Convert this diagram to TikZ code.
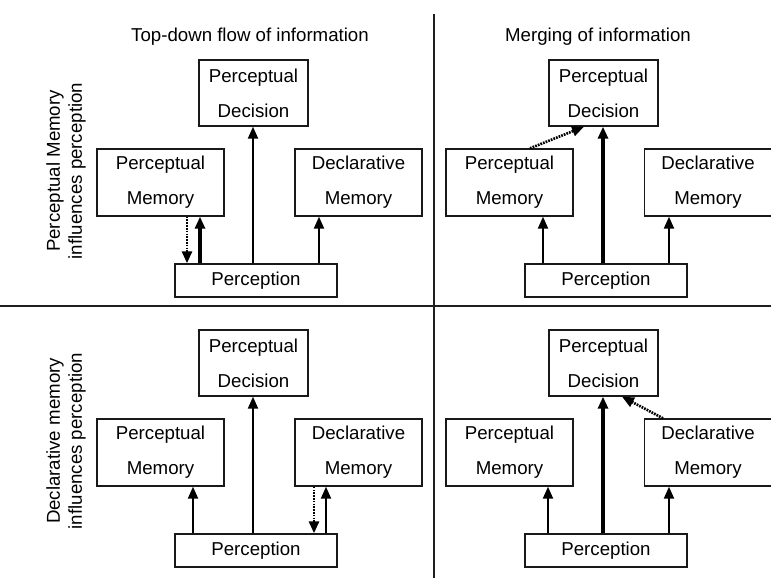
\documentclass[tikz,border=0pt]{standalone}
\usepackage{fontspec}
\setmainfont{Liberation Sans}
\usetikzlibrary{arrows.meta}
\begin{document}
\begin{tikzpicture}[x=0.75pt,y=-0.75pt,
  box/.style={draw=black!90,line width=1.05pt,inner sep=0pt,align=center,font=\fontsize{14}{26}\selectfont},
  pdbox/.style={box,minimum width=81.75pt,minimum height=49.5pt},
  membox/.style={box,minimum width=95.25pt,minimum height=50.25pt},
  perbox/.style={box,minimum width=121.5pt,minimum height=24.75pt},
  tip/.style={-{Triangle[length=9pt,width=7.5pt]}},
  arr/.style={tip,line width=1.6pt},
  tarr/.style={tip,line width=2.3pt},
  darr/.style={tip,line width=2pt,dash pattern=on 1.3pt off 0.8pt},
  divider/.style={draw=black!88,line width=1.5pt},
  title/.style={font=\fontsize{14}{17}\selectfont,inner sep=0pt},
  side/.style={font=\fontsize{14}{16.5}\selectfont,align=center,rotate=90,inner sep=0pt}
]
\useasboundingbox (0,0) rectangle (771,581);

% dividers
\coordinate (vtop) at (434,14);
\coordinate (vbot) at (434,578);
\coordinate (hl) at (0,306);
\coordinate (hr) at (771,306);
\draw[divider] (vtop) -- (vbot);
\draw[divider] (hl) -- (hr);

% titles and side labels
\node[title] (t1) at (250,37) {Top-down flow of information};
\node[title] (t2) at (598,37) {Merging of information};
\node[side] (s1) at (66,171) {Perceptual Memory\\influences perception};
\node[side] (s2) at (66,441) {Declarative memory\\influences perception};

% ---------- top-left ----------
\node[pdbox] (tlpd) at (253.5,93) {Perceptual\\Decision};
\node[membox] (tlpm) at (160.5,182.5) {Perceptual\\Memory};
\node[membox] (tldm) at (358.5,182.5) {Declarative\\Memory};
\node[perbox] (tlper) at (256,280.5) {Perception};
\coordinate (tla) at (187,0);
\coordinate (tlb) at (200,0);
\coordinate (tlc) at (253,0);
\coordinate (tld) at (319,0);
\draw[darr] (tlpm.south -| tla) -- (tlper.north -| tla);
\draw[tarr] (tlper.north -| tlb) -- (tlpm.south -| tlb);
\draw[arr] (tlper.north -| tlc) -- (tlpd.south -| tlc);
\draw[arr] (tlper.north -| tld) -- (tldm.south -| tld);

% ---------- top-right ----------
\node[pdbox] (trpd) at (603.5,93) {Perceptual\\Decision};
\node[membox] (trpm) at (509.5,182.5) {Perceptual\\Memory};
\node[membox] (trdm) at (708,182.5) {Declarative\\Memory};
\node[perbox] (trper) at (606,280.5) {Perception};
\coordinate (tra) at (543,0);
\coordinate (trc) at (603,0);
\coordinate (trd) at (669,0);
\coordinate (tre) at (530,0);
\coordinate (trf) at (584,0);
\draw[arr] (trper.north -| tra) -- (trpm.south -| tra);
\draw[tarr] (trper.north -| trc) -- (trpd.south -| trc);
\draw[arr] (trper.north -| trd) -- (trdm.south -| trd);
\draw[darr] (trpm.north -| tre) -- (trpd.south -| trf);

% ---------- bottom-left ----------
\node[pdbox] (blpd) at (253.5,363) {Perceptual\\Decision};
\node[membox] (blpm) at (160.5,452.5) {Perceptual\\Memory};
\node[membox] (bldm) at (358.5,452.5) {Declarative\\Memory};
\node[perbox] (blper) at (256,550.5) {Perception};
\coordinate (bla) at (193,0);
\coordinate (blc) at (253,0);
\coordinate (bld) at (314,0);
\coordinate (ble) at (326,0);
\draw[arr] (blper.north -| bla) -- (blpm.south -| bla);
\draw[arr] (blper.north -| blc) -- (blpd.south -| blc);
\draw[darr] (bldm.south -| bld) -- (blper.north -| bld);
\draw[arr] (blper.north -| ble) -- (bldm.south -| ble);

% ---------- bottom-right ----------
\node[pdbox] (brpd) at (603.5,363) {Perceptual\\Decision};
\node[membox] (brpm) at (509.5,452.5) {Perceptual\\Memory};
\node[membox] (brdm) at (708,452.5) {Declarative\\Memory};
\node[perbox] (brper) at (606,550.5) {Perception};
\coordinate (bra) at (548,0);
\coordinate (brc) at (603,0);
\coordinate (brd) at (669,0);
\coordinate (bre) at (663,0);
\coordinate (brf) at (622,0);
\draw[arr] (brper.north -| bra) -- (brpm.south -| bra);
\draw[tarr] (brper.north -| brc) -- (brpd.south -| brc);
\draw[arr] (brper.north -| brd) -- (brdm.south -| brd);
\draw[darr] (brdm.north -| bre) -- (brpd.south -| brf);
\end{tikzpicture}
\end{document}
